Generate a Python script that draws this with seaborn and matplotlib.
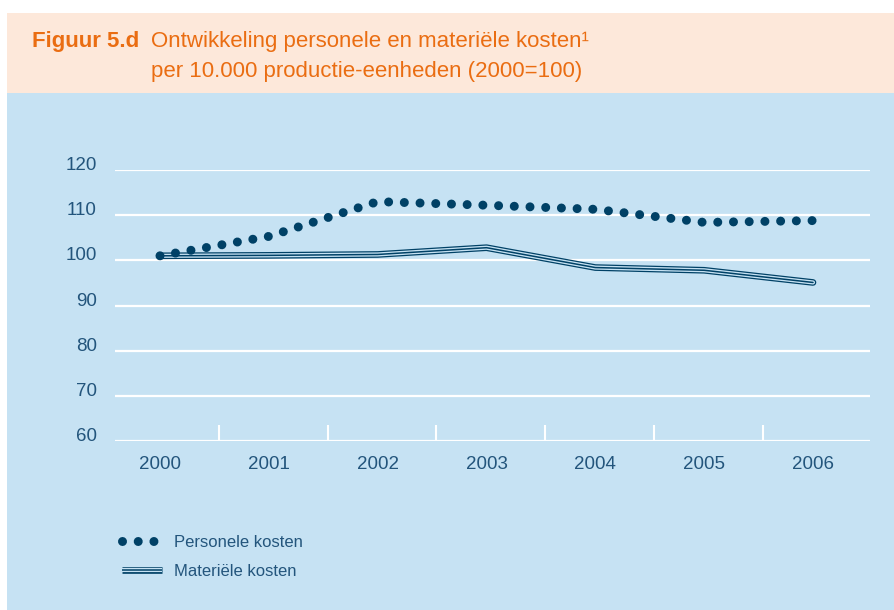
import seaborn as sns
import pandas as pd
import matplotlib
matplotlib.use('Agg')
from matplotlib import pyplot as plt
from matplotlib.patches import Rectangle
from matplotlib.lines import Line2D
from matplotlib.legend_handler import HandlerTuple

# data (2000=100)
jaren = [2000, 2001, 2002, 2003, 2004, 2005, 2006]
personele = [101.0, 105.3, 113.0, 112.2, 111.3, 108.4, 108.8]
materiele = [101.0, 101.1, 101.3, 102.8, 98.4, 97.8, 95.1]
yticks = [60, 70, 80, 90, 100, 110, 120]

df = pd.DataFrame({'jaar': jaren, 'personele': personele, 'materiele': materiele})

navy = '#004166'
blauw = '#c6e2f3'
perzik = '#fde8da'
oranje = '#ea6d12'
tekst = '#23557c'

sns.set_style('white')
plt.rcParams['font.family'] = ['Liberation Sans', 'DejaVu Sans']

fig = plt.figure(figsize=(8.94, 6.10), dpi=100, facecolor='white')
W, H = 894, 610

# header + blue panel
fig.patches.append(Rectangle((7 / W, 1 - 93 / H), 1, 80 / H, transform=fig.transFigure,
                             facecolor=perzik, edgecolor='none', zorder=-5))
fig.patches.append(Rectangle((7 / W, 0), 1, 1 - 93 / H, transform=fig.transFigure,
                             facecolor=blauw, edgecolor='none', zorder=-5))

fig.text(32 / W, 1 - 47 / H, 'Figuur 5.d', color=oranje, fontsize=16, fontweight='bold', va='baseline')
fig.text(151 / W, 1 - 47 / H, 'Ontwikkeling personele en materiële kosten¹', color=oranje,
         fontsize=16, va='baseline')
fig.text(151 / W, 1 - 77 / H, 'per 10.000 productie-eenheden (2000=100)', color=oranje,
         fontsize=16, va='baseline')

ax = fig.add_axes([115 / W, 1 - 441 / H, 755 / W, 271 / H])
ax.set_facecolor('none')
ax.set_zorder(2)

# materiele kosten: triple line
sns.lineplot(data=df, x='jaar', y='materiele', ax=ax, color=navy, lw=4.8, clip_on=False, zorder=3)
sns.lineplot(data=df, x='jaar', y='materiele', ax=ax, color=blauw, lw=3.0, clip_on=False, zorder=3)
sns.lineplot(data=df, x='jaar', y='materiele', ax=ax, color=navy, lw=1.1, clip_on=False, zorder=3)

# personele kosten: round dots
sns.lineplot(data=df, x='jaar', y='personele', ax=ax, color=navy, lw=6.5, clip_on=False, zorder=4)
dots = ax.lines[-1]
dots.set_dashes((0.001, 1.74))
dots.set_dash_capstyle('round')

ax.set_xlim(2000 - 45 / 108.83, 2006 + 57 / 108.83)
ax.set_ylim(60, 120)
ax.set_yticks(yticks)
ax.set_xticks(jaren)
ax.set_xticks([j + 0.54 for j in jaren[:-1]], minor=True)
ax.set_xlabel('')
ax.set_ylabel('')
for s in ax.spines.values():
    s.set_visible(False)
ax.yaxis.grid(True, color='white', lw=1.6)
ax.xaxis.grid(False)
ax.set_axisbelow(True)
ax.tick_params(axis='x', which='major', length=0, pad=10.5, labelsize=13.5, labelcolor=tekst)
ax.tick_params(axis='x', which='minor', direction='in', length=11.5, width=1.5, color='white', bottom=True)
ax.tick_params(axis='y', length=0, pad=13, labelsize=13.5, labelcolor=tekst)
for lbl in ax.get_yticklabels():
    lbl.set_verticalalignment('baseline')

# legend
h_pers = Line2D([], [], color=navy, lw=6.5, dashes=(0.001, 1.74), dash_capstyle='round')
h_mat = (Line2D([], [], color=navy, lw=4.8, solid_capstyle='butt'),
         Line2D([], [], color=blauw, lw=3.0, solid_capstyle='butt'),
         Line2D([], [], color=navy, lw=1.1, solid_capstyle='butt'))
leg = fig.legend([h_pers, h_mat], ['Personele kosten', 'Materiële kosten'],
                 handler_map={tuple: HandlerTuple(ndivide=1, pad=0)},
                 loc='upper left', bbox_to_anchor=(107 / W, 1 - 520 / H), frameon=False,
                 fontsize=12, handlelength=2.4, handletextpad=0.75, labelspacing=0.85,
                 labelcolor=tekst)

fig.savefig('out.png', dpi=100)
